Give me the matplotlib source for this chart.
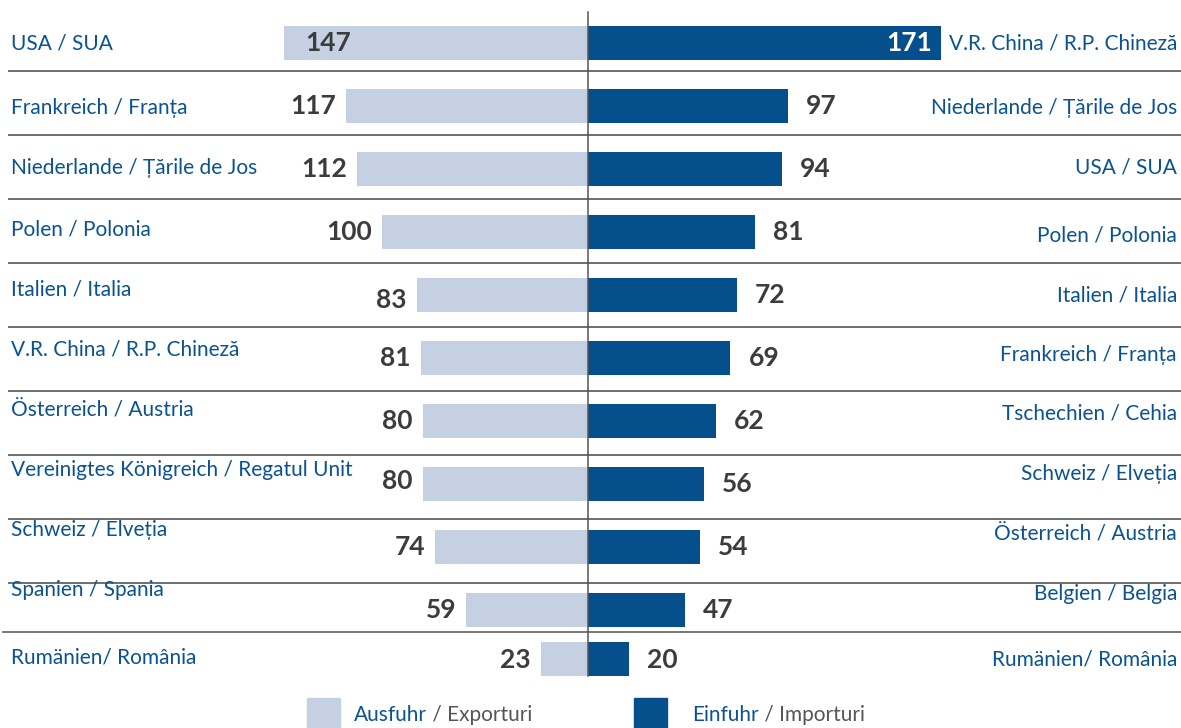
import matplotlib
matplotlib.use("Agg")
import matplotlib.pyplot as plt
from matplotlib.transforms import blended_transform_factory
from matplotlib.patches import Rectangle

export_countries = ["USA / SUA", "Frankreich / Franța", "Niederlande / Țările de Jos",
                    "Polen / Polonia", "Italien / Italia", "V.R. China / R.P. Chineză",
                    "Österreich / Austria", "Vereinigtes Königreich / Regatul Unit",
                    "Schweiz / Elveția", "Spanien / Spania", "Rumänien/ România"]
export_values = [147, 117, 112, 100, 83, 81, 80, 80, 74, 59, 23]

import_countries = ["V.R. China / R.P. Chineză", "Niederlande / Țările de Jos", "USA / SUA",
                    "Polen / Polonia", "Italien / Italia", "Frankreich / Franța",
                    "Tschechien / Cehia", "Schweiz / Elveția", "Österreich / Austria",
                    "Belgien / Belgia", "Rumänien/ România"]
import_values = [171, 97, 94, 81, 72, 69, 62, 56, 54, 47, 20]

legend_labels = [("Ausfuhr", " / Exporturi"), ("Einfuhr", " / Importuri")]

# layout (pixels)
W, H = 1181, 728
CX = 588.0
PX = 2.065  # pixels per unit
row_y = [43 + 63 * i for i in range(10)] + [659]
sep_y = [71, 135, 199, 263, 327, 391, 455, 519, 583, 632]
left_lab_dy = [0, 2, -1, -3, -5, -8, -11, -14, -17, -20, -2]
right_lab_dy = [0, 2, -1, 3, 0, -3, -7, -10, -13, -16, 1]
left_val_dy = [0, 0, 0, 0, 5, 0, 0, -3, 0, 0, 1]
right_val_dy = [0, 0, 0, 0, 0, 0, 0, 0, 0, 0, 1]

LIGHT = "#c5d1e3"
DARK = "#05508c"
BLUE_TXT = "#0b5390"
VAL_TXT = "#3c3c3c"
FONT = "Lato"

fig = plt.figure(figsize=(W / 100, H / 100), dpi=100)
ax = fig.add_axes([0, 0, 1, 1])
ax.set_xlim(-CX / PX, (W - CX) / PX)
ax.set_ylim(H, 0)
ax.axis("off")

bar_h = 34
ax.barh(row_y, [-v for v in export_values], height=bar_h, color=LIGHT, zorder=2)
ax.barh(row_y, import_values, height=bar_h, color=DARK, zorder=2)

# separators
tr_ax = blended_transform_factory(ax.transAxes, ax.transData)
for i, y in enumerate(sep_y):
    x0 = 3 / W if i == len(sep_y) - 1 else 9 / W
    col = "#6e6e6e" if i < len(sep_y) - 1 else "#777777"
    ax.plot([x0, 1], [y, y], transform=tr_ax, color=col, lw=1.4, zorder=1)
ax.plot([0, 0], [12, 676], color="#555555", lw=1.1, zorder=3)

gap = 10 / PX
for i, (c, v) in enumerate(zip(export_countries, export_values)):
    ax.text(11 / W, row_y[i] + left_lab_dy[i], c, transform=tr_ax, ha="left", va="center",
            fontsize=15, color=BLUE_TXT, family=FONT)
    if i == 0:
        ax.text(-v + 21 / PX, row_y[i] + left_val_dy[i], str(v), ha="left", va="center",
                fontsize=19, fontweight="bold", color=VAL_TXT, family=FONT, zorder=4)
    else:
        ax.text(-v - gap, row_y[i] + left_val_dy[i], str(v), ha="right", va="center",
                fontsize=19, fontweight="bold", color=VAL_TXT, family=FONT, zorder=4)

for i, (c, v) in enumerate(zip(import_countries, import_values)):
    ax.text(1 - 4 / W, row_y[i] + right_lab_dy[i], c, transform=tr_ax, ha="right", va="center",
            fontsize=15, color=BLUE_TXT, family=FONT)
    if i == 0:
        ax.text(v - 9 / PX, row_y[i] + right_val_dy[i], str(v), ha="right", va="center",
                fontsize=19, fontweight="bold", color="white", family=FONT, zorder=4)
    else:
        ax.text(v + 18 / PX, row_y[i] + right_val_dy[i], str(v), ha="left", va="center",
                fontsize=19, fontweight="bold", color=VAL_TXT, family=FONT, zorder=4)

# legend
leg_x = [307, 634]
leg_tx = [354, 692]
for (a, b), lx, tx, colr in zip(legend_labels, leg_x, leg_tx, [LIGHT, DARK]):
    fig.patches.append(Rectangle((lx / W, 0), 33 / W, 30 / H, transform=fig.transFigure,
                                 color=colr))
    t = fig.text(tx / W, 13 / H, a, ha="left", va="center", fontsize=15,
                 color=BLUE_TXT, family=FONT)
    fig.canvas.draw()
    bb = t.get_window_extent()
    fig.text(bb.x1 / W, 13 / H, b, ha="left", va="center", fontsize=15,
             color="#555555", family=FONT)

fig.savefig("out.png", dpi=100)
